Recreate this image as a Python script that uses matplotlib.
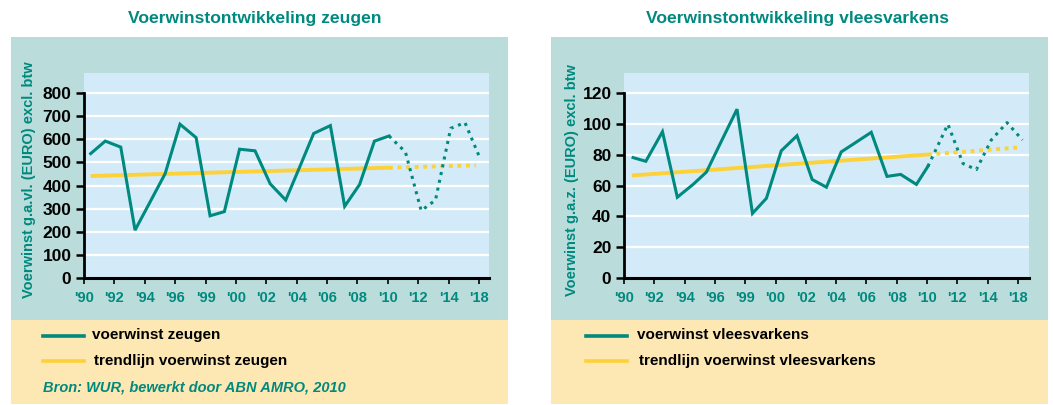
import matplotlib
matplotlib.use("Agg")
import matplotlib.pyplot as plt
from matplotlib.patches import Rectangle

# ---------------- data ----------------
tick_labels = ["'90", "'92", "'94", "'96", "'99", "'00", "'02", "'04", "'06", "'08", "'10", "'12", "'14", "'18"]

zeugen_x = [0.22, 0.70, 1.21, 1.68, 2.18, 2.67, 3.16, 3.69, 4.15, 4.62, 5.12, 5.63, 6.13, 6.64,
            7.10, 7.56, 8.11, 8.58, 9.07, 9.56, 10.04, 10.58, 11.10, 11.57, 12.07, 12.54, 13.05]
zeugen_y = [538, 592, 566, 207, 330, 451, 665, 607, 269, 287, 557, 550, 407, 337,
            480, 625, 659, 310, 404, 592, 614, 545, 291, 337, 647, 672, 513]
zeugen_trend_x = [0.22, 10.04, 12.9]
zeugen_trend_y = [441, 477, 487]

vlees_x = [0.30, 0.72, 1.27, 1.76, 2.28, 2.72, 3.22, 3.73, 4.24, 4.70, 5.19, 5.71, 6.21, 6.68,
           7.17, 7.67, 8.16, 8.68, 9.13, 9.65, 10.03, 10.69, 11.19, 11.63, 12.12, 12.64, 13.15]
vlees_y = [78.1, 75.7, 94.9, 52.4, 60.7, 68.7, 89.0, 109.5, 41.9, 51.7, 82.5, 92.3, 63.9, 58.9,
           81.8, 88.2, 94.5, 65.9, 67.2, 60.7, 72.4, 99.7, 74.2, 70.3, 89.5, 100.8, 89.5]
vlees_trend_x = [0.26, 10.03, 13.05]
vlees_trend_y = [66.5, 80.1, 84.7]

n_solid = 21  # points up to '10 drawn solid, rest dotted

# ---------------- style ----------------
W, H = 1053, 405
TEAL = "#00897e"
YELLOW = "#fdd13a"
BOXBG = "#badddb"
PLOTBG = "#d3ebf8"
BEIGE = "#fde8b3"
FONT = "Liberation Sans"

plt.rcParams["font.family"] = [FONT, "DejaVu Sans"]
fig = plt.figure(figsize=(W / 100, H / 100), dpi=100)
fig.patch.set_facecolor("white")


def px_rect(x0, y0, x1, y1, color):
    fig.patches.append(Rectangle((x0 / W, 1 - y1 / H), (x1 - x0) / W, (y1 - y0) / H,
                                 transform=fig.transFigure, facecolor=color,
                                 edgecolor="none", zorder=-5))


def fx(x):
    return x / W


def fy(y):
    return 1 - y / H


def panel(box_x0, box_x1, ax_x0, ax_x1, xmax, ymax_tick, ystep, ytop,
          xs, ys, txs, tys, title, title_cx, ylabel, ylabel_x,
          leg1, leg2, leg_line_x0, leg_text_x, source=None):
    px_rect(box_x0, 37, box_x1, 320, BOXBG)
    px_rect(box_x0, 320, box_x1, 404, BEIGE)

    ax = fig.add_axes([fx(ax_x0), fy(278), (ax_x1 - ax_x0) / W, (278 - 73) / H])
    ax.set_zorder(2)
    ax.set_facecolor(PLOTBG)
    ax.set_xlim(0, xmax)
    ax.set_ylim(0, ytop)
    yt = list(range(0, ymax_tick + 1, ystep))
    ax.set_yticks(yt)
    ax.set_xticks(range(len(tick_labels)))
    ax.set_xticklabels(tick_labels)
    for v in yt[1:]:
        ax.axhline(v, color="white", lw=1.6, zorder=1)
    for s in ["top", "right"]:
        ax.spines[s].set_visible(False)
    ax.spines["left"].set_bounds(0, ymax_tick)
    ax.spines["left"].set_linewidth(2.0)
    ax.spines["bottom"].set_linewidth(2.2)
    ax.tick_params(axis="y", direction="out", length=6, width=1.8, pad=3,
                   labelsize=12.5, labelcolor="black")
    ax.tick_params(axis="x", direction="out", length=4, width=1.2, pad=5,
                   labelsize=10.5, labelcolor=TEAL)
    for lab in ax.get_yticklabels() + ax.get_xticklabels():
        lab.set_fontweight("bold")

    # trend
    ax.plot(txs[:2], tys[:2], color=YELLOW, lw=2.8, solid_capstyle="butt", zorder=2)
    ax.plot(txs[1:], tys[1:], color=YELLOW, lw=2.8, ls=(0, (1.0, 1.2)), zorder=2)
    # series
    ax.plot(xs[:n_solid], ys[:n_solid], color=TEAL, lw=2.2, solid_joinstyle="miter", zorder=3)
    ax.plot(xs[n_solid - 1:], ys[n_solid - 1:], color=TEAL, lw=2.2, ls=(0, (1.0, 1.6)), zorder=3)

    fig.text(fx(title_cx), fy(18), title, ha="center", va="center", color=TEAL,
             fontsize=12.6, fontweight="bold")
    fig.text(fx(ylabel_x), fy(180), ylabel, ha="center", va="center", rotation=90,
             color=TEAL, fontsize=10.5, fontweight="bold")

    # legend
    fig.add_artist(plt.Line2D([fx(leg_line_x0), fx(leg_line_x0 + 41)], [fy(336), fy(336)],
                              transform=fig.transFigure, color=TEAL, lw=2.6))
    fig.add_artist(plt.Line2D([fx(leg_line_x0), fx(leg_line_x0 + 41)], [fy(361), fy(361)],
                              transform=fig.transFigure, color=YELLOW, lw=2.6))
    fig.text(fx(leg_text_x), fy(335), leg1, ha="left", va="center", color="black",
             fontsize=11, fontweight="bold")
    fig.text(fx(leg_text_x + 2), fy(361), leg2, ha="left", va="center", color="black",
             fontsize=11, fontweight="bold")
    if source:
        fig.text(fx(43), fy(388), source, ha="left", va="center", color=TEAL,
                 fontsize=10.5, fontweight="bold", style="italic")
    return ax


panel(11, 508, 84, 489, 405 / 30.38, 800, 100, 800 * 205 / 185,
      zeugen_x, zeugen_y, zeugen_trend_x, zeugen_trend_y,
      "Voerwinstontwikkeling zeugen", 255,
      "Voerwinst g.a.vl. (EURO) excl. btw", 29,
      "voerwinst zeugen", "trendlijn voerwinst zeugen", 43, 92,
      source="Bron: WUR, bewerkt door ABN AMRO, 2010")

panel(551, 1048, 624, 1029, 405 / 30.3, 120, 20, 120 * 205 / 185,
      vlees_x, vlees_y, vlees_trend_x, vlees_trend_y,
      "Voerwinstontwikkeling vleesvarkens", 797,
      "Voerwinst g.a.z. (EURO) excl. btw", 572,
      "voerwinst vleesvarkens", "trendlijn voerwinst vleesvarkens", 586, 637)

fig.savefig("out.png", dpi=100, facecolor="white")
